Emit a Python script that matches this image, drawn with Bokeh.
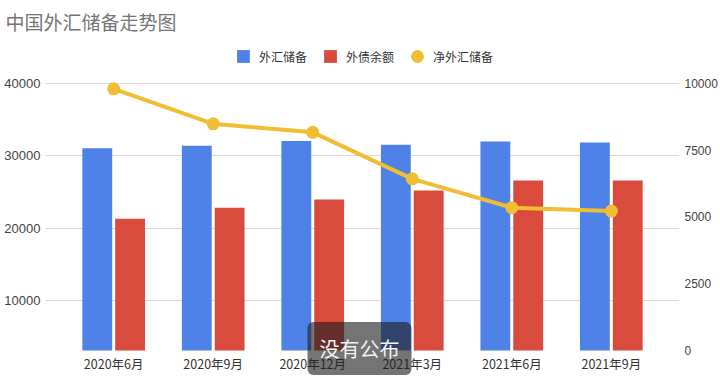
from bokeh.plotting import figure
from bokeh.models import (ColumnDataSource, FactorRange, Range1d, LinearAxis,
                          FixedTicker, Legend, LegendItem, Label)
from bokeh.core.properties import value
from bokeh.transform import dodge
from bokeh.embed import file_html
from bokeh.resources import INLINE

# ---- data (亿美元) ----
months = ["2020年6月", "2020年9月", "2020年12月", "2021年3月", "2021年6月", "2021年9月"]
fx_reserves = [31060, 31380, 32070, 31520, 31980, 31840]
external_debt = [21300, 22820, 23970, 25200, 26580, 26580]
net_reserves = [9800, 8490, 8170, 6430, 5350, 5220]
left_ticks = [10000, 20000, 30000, 40000]
right_ticks = [0, 2500, 5000, 7500, 10000]
left_axis_base = 3100      # value at the bars' baseline on the left axis

BLUE = "#4F82E8"
RED = "#D94B3C"
YELLOW = "#F1BE33"
NUM_FONT = "Liberation Sans"
CJK_FONT = "Noto Sans CJK SC"

src = ColumnDataSource(dict(month=months, fx=fx_reserves, debt=external_debt,
                            net=net_reserves, base=[left_axis_base] * len(months)))

p = figure(width=720, height=385, output_backend="svg", toolbar_location=None,
           x_range=FactorRange(factors=months, range_padding=0.185, range_padding_units="absolute"),
           y_range=Range1d(-1737, 46495),
           min_border_left=45, min_border_right=38, min_border_top=36, min_border_bottom=0,
           title="中国外汇储备走势图")
p.outline_line_color = None
p.background_fill_color = "white"

p.title.text_font = CJK_FONT
p.title.text_font_size = "19px"
p.title.text_font_style = "normal"
p.title.text_color = "#757575"
p.title.standoff = 4
p.title.offset = -40

p.extra_y_ranges = {"right": Range1d(-1311, 11760)}

bar_fx = p.vbar(x=dodge("month", -0.165, range=p.x_range), top="fx", bottom="base", width=0.3,
                source=src, fill_color=BLUE, line_color=None)
bar_debt = p.vbar(x=dodge("month", 0.165, range=p.x_range), top="debt", bottom="base", width=0.3,
                  source=src, fill_color=RED, line_color=None)
line_net = p.line(x="month", y="net", source=src, y_range_name="right",
                  line_color=YELLOW, line_width=4)
pts_net = p.scatter(x="month", y="net", source=src, y_range_name="right",
                    size=13, fill_color=YELLOW, line_color=None)

# category labels under the bars
cat_labels = p.text(x="month", y="base", text="month", source=src, y_offset=13,
                    text_align="center", text_baseline="middle",
                    text_font=value(CJK_FONT), text_font_size="12.5px",
                    text_color="#333333")

# legend swatches (square markers, same colours as bars)
sw_src = ColumnDataSource(dict(month=[months[0]], v=[-100000]))
sw_fx = p.scatter(x="month", y="v", source=sw_src, marker="square", size=12,
                  fill_color=BLUE, line_color=None)
sw_debt = p.scatter(x="month", y="v", source=sw_src, marker="square", size=12,
                    fill_color=RED, line_color=None)

legend = Legend(items=[LegendItem(label="外汇储备", renderers=[sw_fx]),
                       LegendItem(label="外债余额", renderers=[sw_debt]),
                       LegendItem(label="净外汇储备", renderers=[pts_net])],
                orientation="horizontal", location=(182, 313),
                glyph_width=32, glyph_height=32, label_standoff=0, spacing=7,
                padding=0, margin=0, background_fill_alpha=0, border_line_alpha=0,
                label_text_font=CJK_FONT, label_text_font_size="12px",
                label_text_color="#333333")
p.add_layout(legend, "center")

# axes
p.xaxis.visible = False
p.xgrid.grid_line_color = None

p.yaxis.ticker = FixedTicker(ticks=left_ticks)
p.yaxis.axis_line_color = None
p.yaxis.major_tick_line_color = None
p.yaxis.minor_tick_line_color = None
p.yaxis.major_tick_out = 0
p.yaxis.major_label_standoff = 5
p.yaxis.major_label_text_font = NUM_FONT
p.yaxis.major_label_text_font_size = "13px"
p.yaxis.major_label_text_color = "#444444"
p.ygrid.ticker = FixedTicker(ticks=left_ticks)
p.ygrid.grid_line_color = "#dadada"
p.ygrid.grid_line_width = 1

raxis = LinearAxis(y_range_name="right", ticker=FixedTicker(ticks=right_ticks))
raxis.axis_line_color = None
raxis.major_tick_line_color = None
raxis.minor_tick_line_color = None
raxis.major_tick_out = 0
raxis.major_label_standoff = 5
raxis.major_label_text_font = NUM_FONT
raxis.major_label_text_font_size = "12px"
raxis.major_label_text_color = "#444444"
p.add_layout(raxis, "right")

# subtitle overlay seen on the screenshot
sub = Label(x=314, y=37, x_units="screen", y_units="screen", text="没有公布",
            text_align="center", text_baseline="middle",
            text_font=CJK_FONT, text_font_size="20px", text_color="#f2f2f2",
            background_fill_color="#1e1e1e", background_fill_alpha=0.62,
            padding=12, border_radius=6)
p.add_layout(sub)

open("out.html", "w").write(file_html(p, INLINE))
